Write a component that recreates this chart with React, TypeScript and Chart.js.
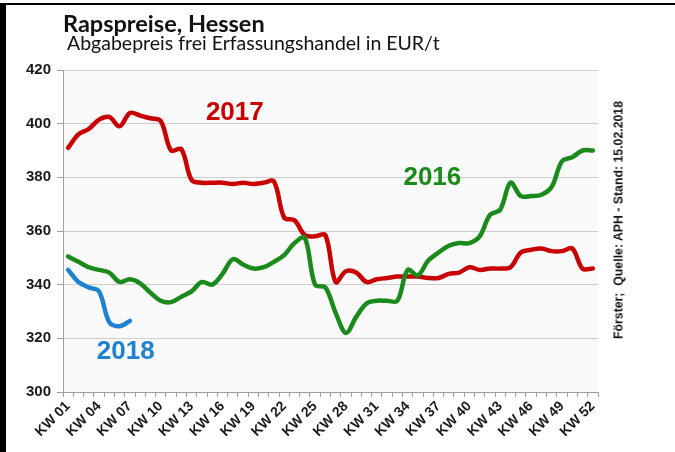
import React, { useEffect, useRef } from "react";
import { Chart, registerables } from "chart.js";

Chart.register(...registerables);

const weeks: string[] = Array.from({ length: 52 }, (_, i) => `KW ${String(i + 1).padStart(2, "0")}`);

const prices2016: number[] = [
  350.5, 348.5, 346.5, 345.5, 344.5, 341, 342, 340.5, 337, 334,
  333.5, 335.5, 337.5, 341, 340, 344, 349.5, 347.5, 346, 346.5,
  348.5, 351, 355.5, 357.5, 340, 339, 329.5, 322, 328, 333,
  334, 334, 334, 345.5, 343.5, 349, 352, 354.5, 355.5, 355.5,
  358, 366, 368, 378, 373, 373, 373.5, 376.5, 386, 387.5,
  390, 390,
];

const prices2017: number[] = [
  391, 396, 398, 401.5, 402.5, 399, 404, 403, 402, 401,
  390, 390.5, 379, 378, 378, 378, 377.5, 378, 377.5, 378,
  378.5, 365, 364, 358.5, 358, 358.5, 341, 345, 344.5, 341,
  342, 342.5, 343, 343, 343, 342.5, 342.5, 344, 344.5, 346.5,
  345.5, 346, 346, 346.5, 352, 353, 353.5, 352.5, 352.5, 353.5,
  346, 346,
];

const prices2018: number[] = [345.5, 341, 339, 337.5, 326, 324.5, 326.5];

const yTicks: number[] = [300, 320, 340, 360, 380, 400, 420];

const seriesNames: string[] = ["2016", "2017", "2018"];
const seriesColors: string[] = ["#1a8a1a", "#c80000", "#1f82d0"];
// label anchor: [category index (decimal), value]
const labelAnchors: [number, number][] = [
  [35.4, 377.1],
  [16.2, 401.4],
  [5.6, 312.3],
];

const bgPlugin = {
  id: "plotBg",
  beforeDraw(chart: any) {
    const { ctx, chartArea } = chart;
    ctx.save();
    ctx.fillStyle = "#fafafa";
    ctx.fillRect(chartArea.left, chartArea.top, chartArea.right - chartArea.left, chartArea.bottom - chartArea.top);
    ctx.restore();
  },
};

const yearLabelPlugin = {
  id: "yearLabels",
  afterDraw(chart: any) {
    const { ctx } = chart;
    const xs = chart.scales.x;
    const ys = chart.scales.y;
    ctx.save();
    ctx.font = "bold 26px 'Liberation Sans', Arial, sans-serif";
    ctx.textAlign = "center";
    ctx.textBaseline = "alphabetic";
    seriesNames.forEach((name, i) => {
      const [ci, v] = labelAnchors[i];
      ctx.fillStyle = seriesColors[i];
      ctx.fillText(name, xs.getPixelForValue(ci), ys.getPixelForValue(v));
    });
    ctx.restore();
  },
};

export default function App() {
  const canvasRef = useRef<HTMLCanvasElement | null>(null);

  useEffect(() => {
    document.body.style.margin = "0";
    const canvas = canvasRef.current;
    if (!canvas) return;
    const datasets = [prices2016, prices2017, prices2018].map((data, i) => ({
      label: seriesNames[i],
      data,
      borderColor: seriesColors[i],
      backgroundColor: seriesColors[i],
      borderWidth: 4.5,
      pointRadius: 0,
      tension: 0.35,
      fill: false,
      borderCapStyle: "round" as const,
      borderJoinStyle: "round" as const,
    }));
    const chart = new Chart(canvas, {
      type: "line",
      data: { labels: weeks, datasets },
      plugins: [bgPlugin, yearLabelPlugin],
      options: {
        animation: false,
        responsive: false,
        devicePixelRatio: 1,
        layout: { padding: { top: 70, right: 77, left: 0, bottom: 0 } },
        plugins: {
          legend: { display: false },
          tooltip: { enabled: false },
          title: { display: false },
        },
        scales: {
          x: {
            type: "category",
            offset: true,
            grid: {
              offset: true,
              drawOnChartArea: false,
              drawTicks: true,
              tickLength: 5,
              color: "#a0a0a0",
            },
            border: { color: "#a0a0a0" },
            ticks: {
              autoSkip: false,
              maxRotation: 45,
              minRotation: 45,
              padding: 1,
              color: "#1a1a1a",
              font: { family: "'Liberation Sans', Arial, sans-serif", size: 14, weight: "bold" },
              callback: (_v: any, idx: number) => (idx % 3 === 0 ? weeks[idx] : ""),
            },
            afterFit: (scale: any) => {
              scale.height = 60;
            },
          },
          y: {
            min: 300,
            max: 420,
            afterBuildTicks: (scale: any) => {
              scale.ticks = yTicks.map((v) => ({ value: v }));
            },
            grid: {
              color: "#cdcdcd",
              tickLength: 6,
              tickColor: "#a0a0a0",
            },
            border: { color: "#a0a0a0" },
            ticks: {
              padding: 6,
              color: "#1a1a1a",
              font: { family: "'Liberation Sans', Arial, sans-serif", size: 15, weight: "bold" },
            },
            afterFit: (scale: any) => {
              scale.width = 63;
            },
          },
        },
      },
    });
    return () => chart.destroy();
  }, []);

  return (
    <div style={{ position: "relative", width: 675, height: 452, background: "#fff", overflow: "hidden" }}>
      <canvas ref={canvasRef} width={675} height={452} style={{ position: "absolute", left: 0, top: 0 }} />
      <div style={{ position: "absolute", left: 0, top: 3, width: 675, height: 2, background: "#000" }} />
      <div style={{ position: "absolute", left: 0, top: 3, width: 6, height: 449, background: "#000" }} />
      <div
        style={{
          position: "absolute",
          left: 63,
          top: 12,
          fontFamily: "Lato, 'Open Sans', sans-serif",
          fontWeight: 700,
          fontSize: 23.5,
          lineHeight: "23px",
          color: "#111",
          whiteSpace: "nowrap",
        }}
      >
        Rapspreise, Hessen
      </div>
      <div
        style={{
          position: "absolute",
          left: 67,
          top: 33,
          fontFamily: "Lato, 'Open Sans', sans-serif",
          fontWeight: 400,
          fontSize: 19.5,
          lineHeight: "20px",
          color: "#111",
          whiteSpace: "nowrap",
        }}
      >
        Abgabepreis frei Erfassungshandel in EUR/t
      </div>
      <div
        style={{
          position: "absolute",
          left: 619,
          top: 220,
          transform: "translate(-50%, -50%) rotate(-90deg)",
          fontFamily: "'Liberation Sans', Arial, sans-serif",
          fontWeight: 700,
          fontSize: 12.3,
          lineHeight: "13px",
          color: "#111",
          whiteSpace: "nowrap",
        }}
      >
        Förster;&nbsp; Quelle: APH - Stand: 15.02.2018
      </div>
    </div>
  );
}
